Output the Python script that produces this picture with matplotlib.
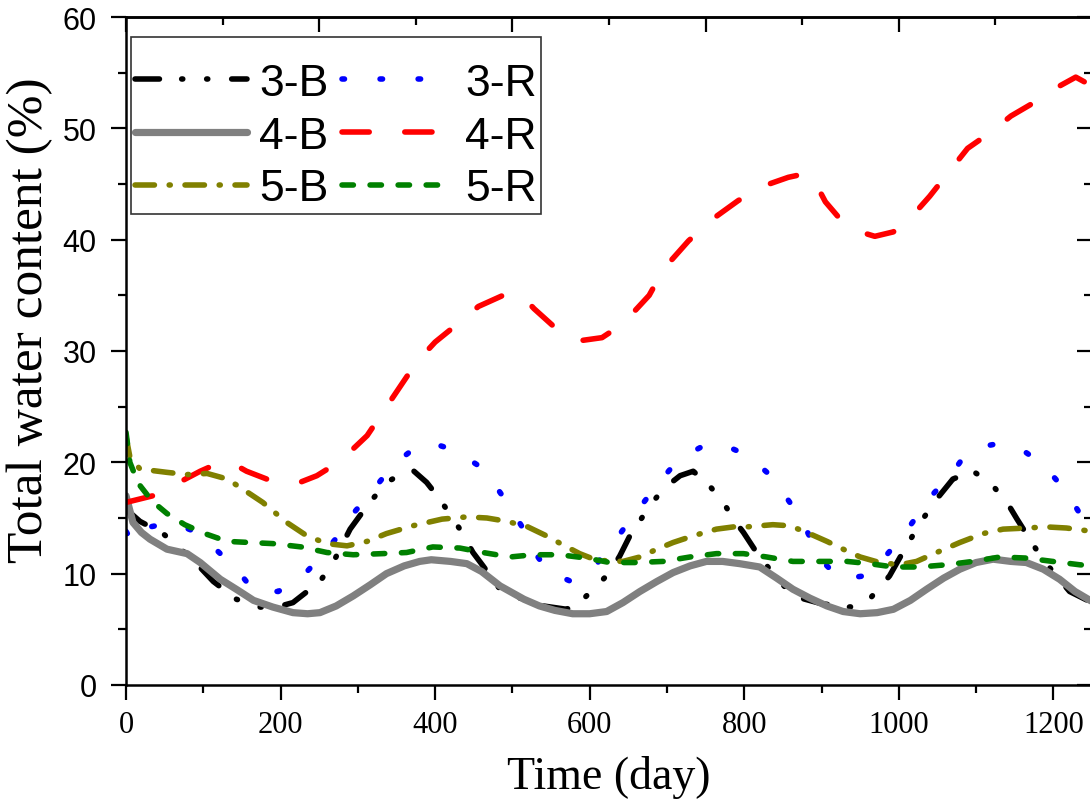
import numpy as np
import matplotlib
matplotlib.use("Agg")
import matplotlib.pyplot as plt
from matplotlib.ticker import MultipleLocator

# ---------------- data ----------------
day_3B = [0, 18, 48, 66, 90, 113, 143, 173, 195, 216, 251, 268, 290, 312, 337, 358, 371, 389, 406, 432,
          449, 462, 484, 510, 540, 570, 587, 609, 626, 639, 652, 678, 695, 717, 734, 755, 773, 786, 799,
          816, 835, 863, 900, 937, 962, 988, 1010, 1031, 1049, 1070, 1096, 1118, 1140, 1153, 1173, 1186,
          1221, 1250]
val_3B = [15.8, 14.7, 13.6, 12.5, 11.0, 9.3, 7.7, 7.0, 7.0, 7.4, 9.3, 11.0, 14.0, 16.1, 18.2, 19.0, 19.3,
          18.2, 16.7, 14.0, 11.9, 10.7, 8.6, 7.8, 7.1, 6.8, 7.4, 8.9, 10.1, 11.6, 13.4, 16.1, 17.6, 18.8,
          19.2, 17.9, 16.4, 14.9, 13.7, 11.9, 10.2, 8.0, 7.3, 7.0, 7.7, 9.8, 12.5, 14.9, 16.7, 18.5, 19.2,
          18.2, 16.4, 14.9, 12.7, 11.3, 8.4, 7.4]

day_3R = [0, 9, 31, 60, 92, 119, 143, 165, 197, 229, 253, 277, 294, 316, 337, 359, 376, 397, 425, 454,
          477, 497, 516, 533, 546, 576, 607, 630, 650, 671, 691, 713, 729, 753, 779, 805, 831, 853, 873,
          889, 900, 924, 955, 982, 1004, 1026, 1045, 1069, 1082, 1107, 1130, 1158, 1185, 1208, 1228, 1250]
val_3R = [13.8, 12.8, 14.2, 14.6, 13.7, 12.0, 10.4, 8.5, 8.4, 9.8, 11.6, 13.6, 15.4, 17.2, 19.0, 20.5,
          21.4, 21.7, 21.1, 19.8, 18.0, 16.0, 13.8, 11.5, 10.2, 9.3, 10.7, 12.7, 14.6, 16.5, 18.3, 20.1,
          20.8, 21.7, 21.4, 20.6, 19.0, 17.0, 15.0, 12.7, 11.2, 9.5, 9.8, 11.5, 13.3, 15.4, 17.2, 19.0,
          20.3, 21.4, 21.7, 21.2, 19.9, 18.1, 16.1, 13.6]

day_4B = [0, 9, 20, 31, 53, 79, 96, 122, 145, 165, 190, 216, 235, 251, 272, 294, 316, 337, 360, 380, 395,
          420, 441, 460, 484, 515, 535, 555, 578, 600, 622, 643, 665, 687, 708, 730, 751, 772, 794, 820,
          842, 863, 885, 907, 928, 950, 972, 993, 1015, 1036, 1058, 1079, 1100, 1122, 1145, 1165, 1187,
          1208, 1228, 1250]
val_4B = [17.0, 14.6, 13.7, 13.1, 12.2, 11.8, 11.0, 9.5, 8.5, 7.6, 7.0, 6.5, 6.4, 6.5, 7.1, 8.0, 9.0, 10.0,
          10.7, 11.1, 11.25, 11.1, 10.9, 10.2, 8.9, 7.7, 7.1, 6.7, 6.4, 6.4, 6.6, 7.4, 8.4, 9.3, 10.1, 10.7,
          11.1, 11.1, 10.9, 10.6, 9.6, 8.6, 7.8, 7.1, 6.6, 6.4, 6.5, 6.8, 7.6, 8.6, 9.6, 10.4, 11.0, 11.3,
          11.1, 11.0, 10.4, 9.5, 8.4, 7.5]

day_4R = [0, 35, 66, 96, 122, 138, 156, 182, 203, 225, 247, 277, 312, 344, 376, 400, 432, 456, 488, 512,
          528, 552, 585, 616, 640, 657, 677, 696, 728, 760, 792, 824, 857, 877, 889, 905, 921, 945, 969,
          993, 1017, 1040, 1065, 1089, 1120, 1145, 1177, 1208, 1229, 1250]
val_4R = [16.4, 17.0, 18.1, 19.2, 20.0, 19.9, 19.2, 18.5, 18.2, 18.2, 18.8, 20.1, 22.4, 25.7, 29.0, 30.8,
          32.6, 34.0, 35.0, 35.0, 33.8, 32.3, 30.9, 31.2, 32.3, 33.5, 35.0, 37.4, 39.9, 41.9, 43.5, 44.8,
          45.6, 45.9, 45.5, 43.4, 42.1, 40.8, 40.3, 40.7, 42.1, 43.9, 46.1, 48.2, 49.7, 51.1, 52.4, 53.8,
          54.6, 53.8]

day_5B = [0, 5, 18, 53, 79, 105, 131, 151, 177, 208, 234, 260, 286, 312, 337, 371, 409, 441, 467, 493,
          520, 544, 565, 587, 609, 643, 665, 687, 708, 734, 764, 786, 803, 837, 859, 881, 907, 928, 950,
          975, 1001, 1023, 1049, 1079, 1109, 1135, 1165, 1191, 1217, 1250]
val_5B = [22.3, 20.5, 19.4, 19.1, 18.9, 19.0, 18.5, 17.6, 16.4, 14.6, 13.4, 12.7, 12.5, 12.9, 13.6, 14.3,
          14.9, 15.1, 15.0, 14.7, 14.2, 13.4, 12.6, 11.8, 11.2, 11.1, 11.5, 12.2, 12.8, 13.4, 14.0, 14.2,
          14.2, 14.4, 14.3, 13.7, 12.9, 12.2, 11.5, 11.0, 10.8, 11.1, 11.9, 12.8, 13.6, 14.0, 14.1, 14.2,
          14.1, 13.8]

day_5R = [0, 5, 16, 34, 53, 76, 102, 131, 160, 190, 227, 260, 294, 332, 363, 397, 432, 462, 497, 527,
          561, 596, 626, 661, 695, 730, 764, 799, 829, 863, 898, 933, 962, 993, 1027, 1062, 1096, 1131,
          1165, 1199, 1234, 1250]
val_5R = [22.7, 20.0, 18.1, 16.5, 15.4, 14.4, 13.6, 12.9, 12.8, 12.7, 12.4, 11.9, 11.7, 11.8, 11.9, 12.4,
          12.3, 11.9, 11.5, 11.7, 11.7, 11.4, 11.0, 11.0, 11.1, 11.5, 11.8, 11.8, 11.5, 11.1, 11.1, 11.1,
          10.9, 10.6, 10.6, 10.8, 11.1, 11.5, 11.4, 11.1, 10.8, 10.7]

labels = ["3-B", "3-R", "4-B", "4-R", "5-B", "5-R"]
xlabel = "Time (day)"
ylabel = "Total water content (%)"

# ---------------- figure ----------------
W, H = 1090, 803
fig = plt.figure(figsize=(W / 100, H / 100), dpi=100)
ax = fig.add_axes([126 / W, (H - 686) / H, 966 / W, 668 / H])

LW = 4.0
common = dict(dash_capstyle="round", solid_capstyle="round")
ax.plot(day_3B, val_3B, color="black", lw=LW, dashes=(4.4, 4.0, 0.2, 4.3, 0.2, 4.3), label=labels[0], **common)
ax.plot(day_3R, val_3R, color="#0000ff", lw=LW, dashes=(0.45, 6.4), label=labels[1], **common)
ax.plot(day_4B, val_4B, color="#808080", lw=5.2, label=labels[2], **common)
ax.plot(day_4R, val_4R, color="#ff0000", lw=LW, dashes=(4.9, 6.4), label=labels[3], **common)
ax.plot(day_5B, val_5B, color="#808000", lw=LW, dashes=(3.5, 2.65, 0.2, 2.65), label=labels[4], **common)
ax.plot(day_5R, val_5R, color="#008000", lw=LW, dashes=(2.05, 3.0), label=labels[5], **common)

ax.set_xlim(0, 1250)
ax.set_ylim(0, 60)

for s in ax.spines.values():
    s.set_linewidth(1.8)

ax.xaxis.set_major_locator(MultipleLocator(200))
ax.xaxis.set_minor_locator(MultipleLocator(100))
ax.yaxis.set_major_locator(MultipleLocator(10))
ax.yaxis.set_minor_locator(MultipleLocator(5))
ax.tick_params(which="major", direction="out", length=11, width=1.6)
ax.tick_params(which="minor", direction="out", length=5.5, width=1.6)
ax.tick_params(axis="x", pad=7, labelsize=22, labelfontfamily="Liberation Serif")
ax.tick_params(axis="y", pad=10, labelsize=22, labelfontfamily="Liberation Sans")

# top and right axes (ticks only, pointing inward)
top = ax.secondary_xaxis("top")
top.xaxis.set_major_locator(MultipleLocator(250))
top.xaxis.set_minor_locator(MultipleLocator(125))
top.tick_params(which="major", direction="in", length=11, width=1.6, labeltop=False)
top.tick_params(which="minor", direction="in", length=5.5, width=1.6)
top.spines["top"].set_linewidth(1.8)

right = ax.secondary_yaxis("right")
right.yaxis.set_major_locator(MultipleLocator(10))
right.yaxis.set_minor_locator(MultipleLocator(5))
right.tick_params(which="major", direction="in", length=11, width=1.6, labelright=False)
right.tick_params(which="minor", direction="in", length=5.5, width=1.6)
right.spines["right"].set_linewidth(1.8)

ax.set_xlabel(xlabel, fontfamily="Liberation Serif", fontsize=33)
ax.xaxis.set_label_coords(0.5, -0.105)
ax.xaxis.label.set_va("top")
ax.set_ylabel(ylabel, fontfamily="Liberation Serif", fontsize=37)
ax.yaxis.set_label_coords(-0.075, 0.548)

h, l = ax.get_legend_handles_labels()
order = [0, 2, 4, 1, 3, 5]
leg = ax.legend([h[i] for i in order], [l[i] for i in order], ncol=2, loc="upper left",
                bbox_to_anchor=(0.0052, 0.970), borderaxespad=0, frameon=True, fancybox=False,
                edgecolor="#333333", framealpha=1, prop={"family": "Liberation Sans", "size": 32},
                handlelength=2.5, handletextpad=0.28, columnspacing=0.3, labelspacing=0.26,
                borderpad=0.1, title=" ", title_fontsize=7)
leg.get_frame().set_linewidth(1.2)

fig.savefig("out.png", dpi=100)
